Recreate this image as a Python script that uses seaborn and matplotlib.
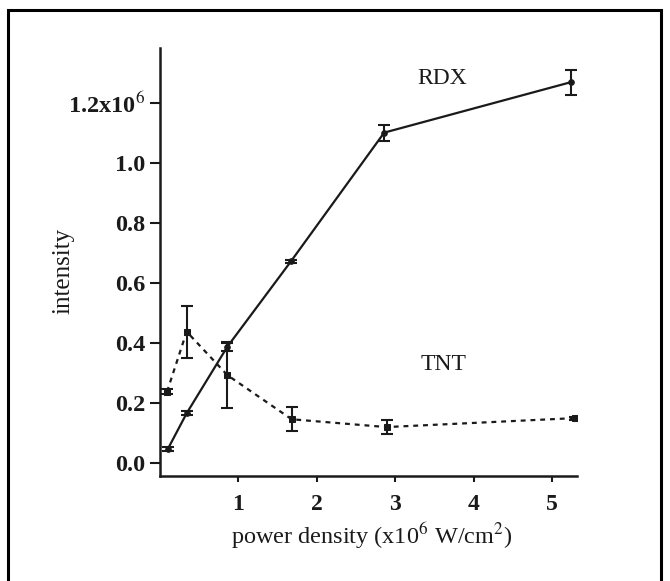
import matplotlib
matplotlib.use("Agg")
import matplotlib.pyplot as plt
from matplotlib.patches import Rectangle
import seaborn as sns
import pandas as pd

# Data (intensity in units of 10^6)
rdx_x = [0.10, 0.34, 0.86, 1.67, 2.86, 5.24]
rdx_y = [0.047, 0.166, 0.388, 0.672, 1.101, 1.269]
rdx_err = [0.006, 0.006, 0.015, 0.005, 0.027, 0.042]

tnt_x = [0.09, 0.34, 0.86, 1.68, 2.89, 5.30]
tnt_y = [0.238, 0.438, 0.293, 0.146, 0.120, 0.150]
tnt_err = [0.008, 0.087, 0.108, 0.040, 0.022, 0.005]

y_ticks = [0.0, 0.2, 0.4, 0.6, 0.8, 1.0, 1.2]
y_ticklabels = ["0.0", "0.2", "0.4", "0.6", "0.8", "1.0", r"1.2x10$^{6}$"]
x_ticks = [1, 2, 3, 4, 5]
x_ticklabels = ["1", "2", "3", "4", "5"]

sns.set_style("ticks")
plt.rcParams["font.family"] = ["Liberation Serif", "DejaVu Serif"]
plt.rcParams["mathtext.fontset"] = "stix"

df_rdx = pd.DataFrame({"x": rdx_x, "y": rdx_y})
df_tnt = pd.DataFrame({"x": tnt_x, "y": tnt_y})

ink = "#1a1a1a"
fig = plt.figure(figsize=(6.7, 5.81), dpi=100)
ax = fig.add_axes([160 / 670, 1 - 476 / 581, (577 - 160) / 670, (476 - 48) / 581])

sns.lineplot(data=df_rdx, x="x", y="y", ax=ax, color=ink, linewidth=1.6,
             marker="o", markersize=4, markeredgecolor=ink, sort=False)
sns.lineplot(data=df_tnt, x="x", y="y", ax=ax, color=ink, linewidth=1.6,
             marker="s", markersize=4, markeredgecolor=ink, sort=False,
             linestyle=(0, (2.2, 2.2)))
ax.errorbar(rdx_x, rdx_y, yerr=rdx_err, fmt="none", ecolor=ink,
            elinewidth=1.5, capsize=4, capthick=1.5)
ax.errorbar(tnt_x, tnt_y, yerr=tnt_err, fmt="none", ecolor=ink,
            elinewidth=1.5, capsize=4, capthick=1.5)

ax.set_xlim(0, 5.32)
ax.set_ylim(-0.043, 1.383)
ax.set_xticks(x_ticks)
ax.set_xticklabels(x_ticklabels, fontsize=17, fontweight="bold")
ax.set_yticks(y_ticks)
ax.set_yticklabels(y_ticklabels, fontsize=17.5, fontweight="bold")
ax.tick_params(axis="x", direction="out", length=4, width=1.5, color=ink,
               labelcolor=ink, pad=9)
ax.tick_params(axis="y", direction="out", length=7.5, width=1.5, color=ink,
               labelcolor=ink, pad=3)

for s in ["top", "right"]:
    ax.spines[s].set_visible(False)
for s in ["left", "bottom"]:
    ax.spines[s].set_linewidth(1.8)
    ax.spines[s].set_color(ink)

ax.set_xlabel(r"power density (x10$^{6}$ W/cm$^{2}$)", fontsize=17.5, color=ink)
ax.xaxis.set_label_coords(0.508, -0.105)
ax.set_ylabel("intensity", fontsize=18, color=ink)
ax.yaxis.set_label_coords(-0.2326, 0.48)
ax.yaxis.label.set_verticalalignment("center")

ax.text(3.6, 1.28, "RDX", fontsize=17, ha="center", va="center", color=ink)
ax.text(3.62, 0.327, "TNT", fontsize=17, ha="center", va="center", color=ink)

fig.patches.append(Rectangle((8 / 670, -0.1), (661 - 8) / 670, 1.1 - 10 / 581,
                             transform=fig.transFigure, fill=False,
                             edgecolor="black", linewidth=2.2))

fig.savefig("out.png", dpi=100)
